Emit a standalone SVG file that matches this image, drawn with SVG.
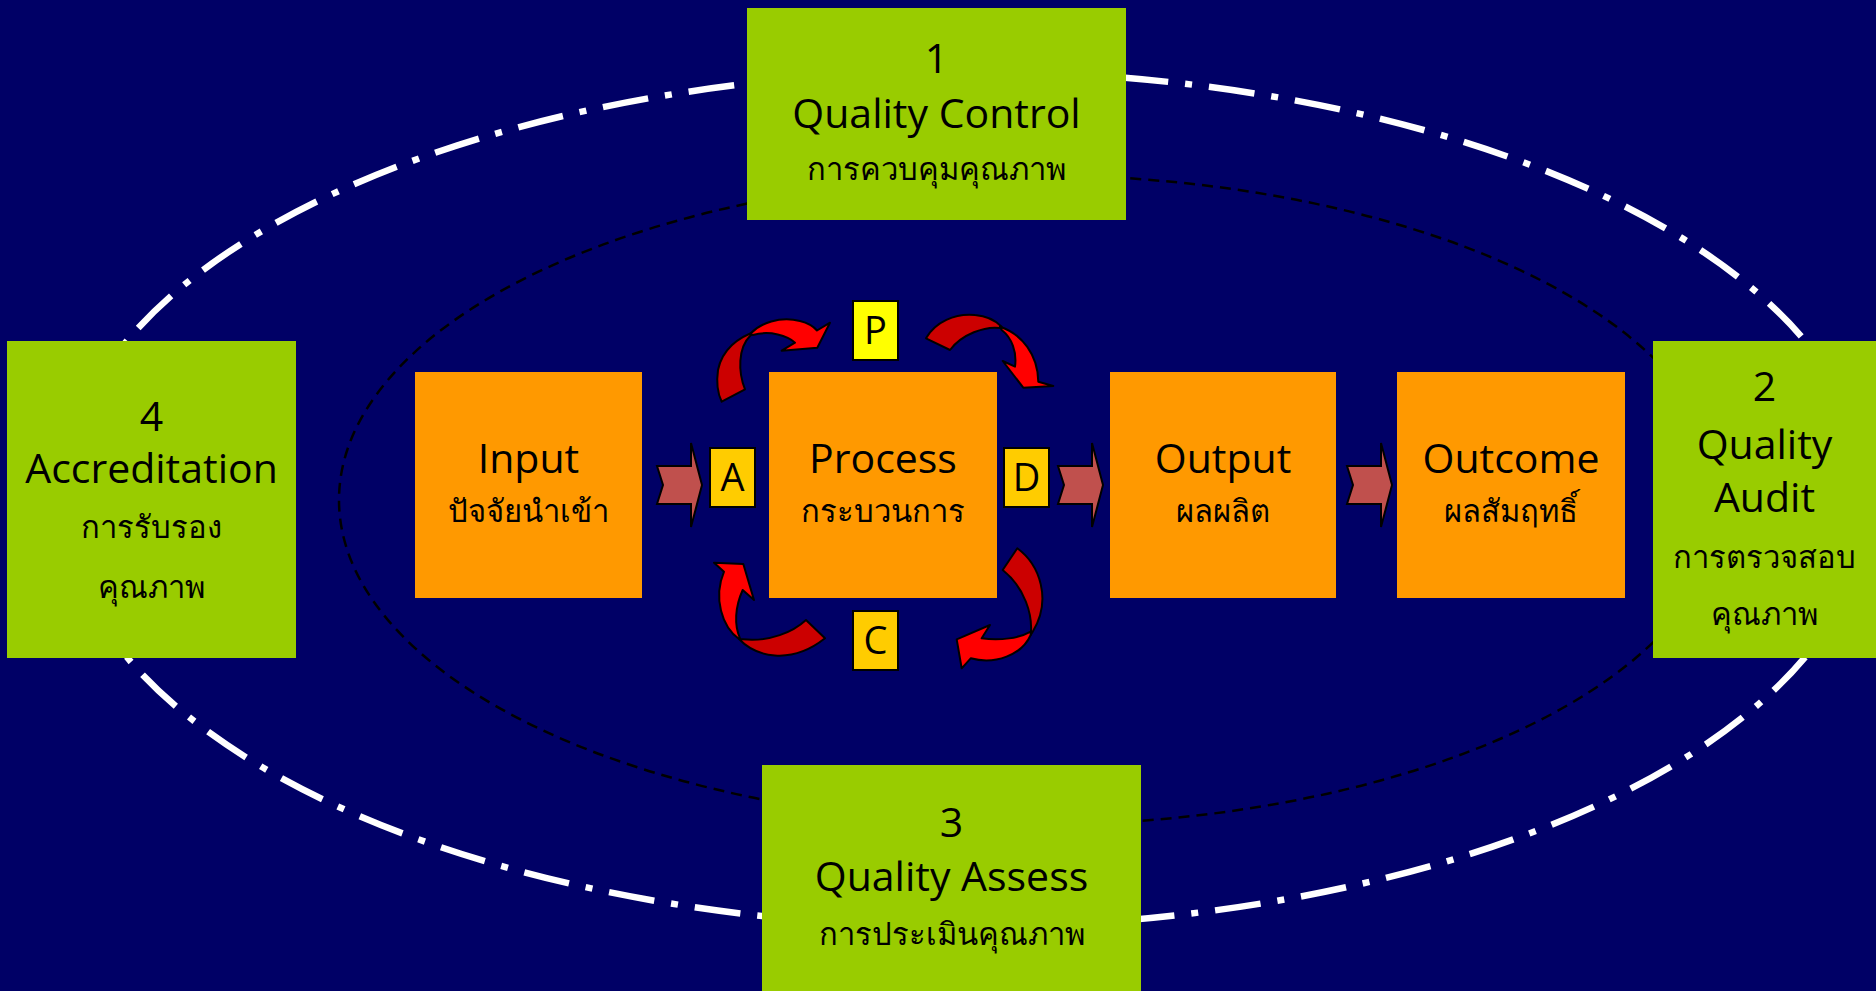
<svg xmlns="http://www.w3.org/2000/svg" width="1876" height="991" viewBox="0 0 1876 991">
<style>
.bg{fill:#000066}
.green{fill:#99CC00}
.orange{fill:#FF9900}
.t{font-family:"Open Sans","Noto Sans","DejaVu Sans",sans-serif;fill:#000;text-anchor:middle}
.big{font-size:41px}
.th{font-size:31px;font-weight:300}
.let{font-size:38px}
.pd{stroke:#000;stroke-width:2}
.blk{fill:#C0504D;stroke:#000;stroke-width:2;stroke-linejoin:miter}
.cr{fill:#FF0000;stroke:#000;stroke-width:2;stroke-linejoin:round}
.cd{fill:#CC0000;stroke:#000;stroke-width:2;stroke-linejoin:round}
</style>
<rect class="bg" x="0" y="0" width="1876" height="991"/>
<g id="connectors">
<ellipse cx="966" cy="499" rx="903" ry="428" fill="none" stroke="#FFFFFF" stroke-width="6.5" stroke-dasharray="46 17 7 17"/>
<ellipse cx="1031" cy="500" rx="692" ry="325" fill="none" stroke="#000000" stroke-width="2.5" stroke-dasharray="11 7"/>
<path class="blk" d="M657,466 L691,466 L691,443 L702,485 L691,527 L691,504 L657,504 L663,485 Z"/>
<path class="blk" d="M1058,466 L1092,466 L1092,443 L1103,485 L1092,527 L1092,504 L1058,504 L1064,485 Z"/>
<path class="blk" d="M1347,466 L1381,466 L1381,443 L1392,485 L1381,527 L1381,504 L1347,504 L1353,485 Z"/>
<g id="arrow-tl">
<path class="cd" d="M721.7,401.7 L745,389.3 C738,372 738,348 750,336 L756,331.5 C738,337 722,350 718,370 C716,384 718,394 721.7,401.7 Z"/>
<path class="cr" d="M750,334 C760,323 780,316 800,321 C808,323 814,327 817,330.5 L830,322.7 L817.3,347.7 L781.7,350.7 L795,342.7 C788,336 770,330 753,335 Z"/>
</g>
<g id="arrow-tr">
<path class="cd" d="M926,338.3 C935,322 955,313 975,315 C988,316 996,321 1001.7,326.7 L1000,328 C985,326 962,334 950,350 Z"/>
<path class="cr" d="M1000,326.7 C1022,334 1038,355 1038.3,381.7 L1053.3,386 L1023.3,387.7 L1002.7,361 L1015,366.7 C1017,352 1012,338 1001.7,330 Z"/>
</g>
<g id="arrow-bl">
<path class="cd" d="M739.3,639.3 C755,656 790,666 825,638.3 L806,620 C793,632 770,642 743,639.3 Z"/>
<path class="cr" d="M724,571.7 L714,562.7 L743.3,564 L754,600 L742.7,590 C735,607 734,625 740,638.3 L739.3,639.3 C722,627 713,598 724,571.7 Z"/>
</g>
<g id="arrow-br">
<path class="cd" d="M1002.7,570 L1017.3,548.3 C1040,565 1052,600 1032.7,631.7 L1030.7,635 C1033,615 1025,588 1002.7,570 Z"/>
<path class="cr" d="M1030.7,635 C1022,655 995,665 970.7,658.3 L961.7,668.3 L956.7,639.3 L990,625 L981.7,638.3 C1000,641 1020,638 1030.7,631.7 Z"/>
</g>
</g>
<g id="node-quality-control">
<rect class="green" x="747" y="8" width="379" height="212"/>
<text class="t big" x="936.5" y="73">1</text>
<text class="t big" x="936.5" y="128">Quality Control</text>
<text class="t th" x="936.5" y="180">การควบคุมคุณภาพ</text>
</g>
<g id="node-quality-audit">
<rect class="green" x="1653" y="341" width="223" height="317"/>
<text class="t big" x="1764.5" y="401">2</text>
<text class="t big" x="1764.5" y="459">Quality</text>
<text class="t big" x="1764.5" y="512">Audit</text>
<text class="t th" x="1764.5" y="568">การตรวจสอบ</text>
<text class="t th" x="1764.5" y="625">คุณภาพ</text>
</g>
<g id="node-quality-assess">
<rect class="green" x="762" y="765" width="379" height="226"/>
<text class="t big" x="951.5" y="837">3</text>
<text class="t big" x="951.5" y="891">Quality Assess</text>
<text class="t th" x="951.5" y="945">การประเมินคุณภาพ</text>
</g>
<g id="node-accreditation">
<rect class="green" x="7" y="341" width="289" height="317"/>
<text class="t big" x="151.5" y="431">4</text>
<text class="t big" x="151.5" y="483">Accreditation</text>
<text class="t th" x="151.5" y="538">การรับรอง</text>
<text class="t th" x="151.5" y="598">คุณภาพ</text>
</g>
<g id="node-input">
<rect class="orange" x="415" y="372" width="227" height="226"/>
<text class="t big" x="528.5" y="473">Input</text>
<text class="t th" x="528.5" y="522">ปัจจัยนำเข้า</text>
</g>
<g id="node-process">
<rect class="orange" x="769" y="372" width="228" height="226"/>
<text class="t big" x="883" y="473">Process</text>
<text class="t th" x="883" y="522">กระบวนการ</text>
</g>
<g id="node-output">
<rect class="orange" x="1110" y="372" width="226" height="226"/>
<text class="t big" x="1223" y="473">Output</text>
<text class="t th" x="1223" y="522">ผลผลิต</text>
</g>
<g id="node-outcome">
<rect class="orange" x="1397" y="372" width="228" height="226"/>
<text class="t big" x="1511" y="473">Outcome</text>
<text class="t th" x="1511" y="522">ผลสัมฤทธิ์</text>
</g>
<g id="node-p">
<rect class="pd" x="853" y="301" width="45" height="59" fill="#FFFF00"/>
<text class="t let" x="875.5" y="344">P</text>
</g>
<g id="node-a">
<rect class="pd" x="710" y="448" width="45" height="59" fill="#FFCC00"/>
<text class="t let" x="732.5" y="491">A</text>
</g>
<g id="node-d">
<rect class="pd" x="1004" y="448" width="45" height="59" fill="#FFCC00"/>
<text class="t let" x="1026.5" y="491">D</text>
</g>
<g id="node-c">
<rect class="pd" x="853" y="611" width="45" height="59" fill="#FFCC00"/>
<text class="t let" x="875.5" y="654">C</text>
</g>
</svg>
